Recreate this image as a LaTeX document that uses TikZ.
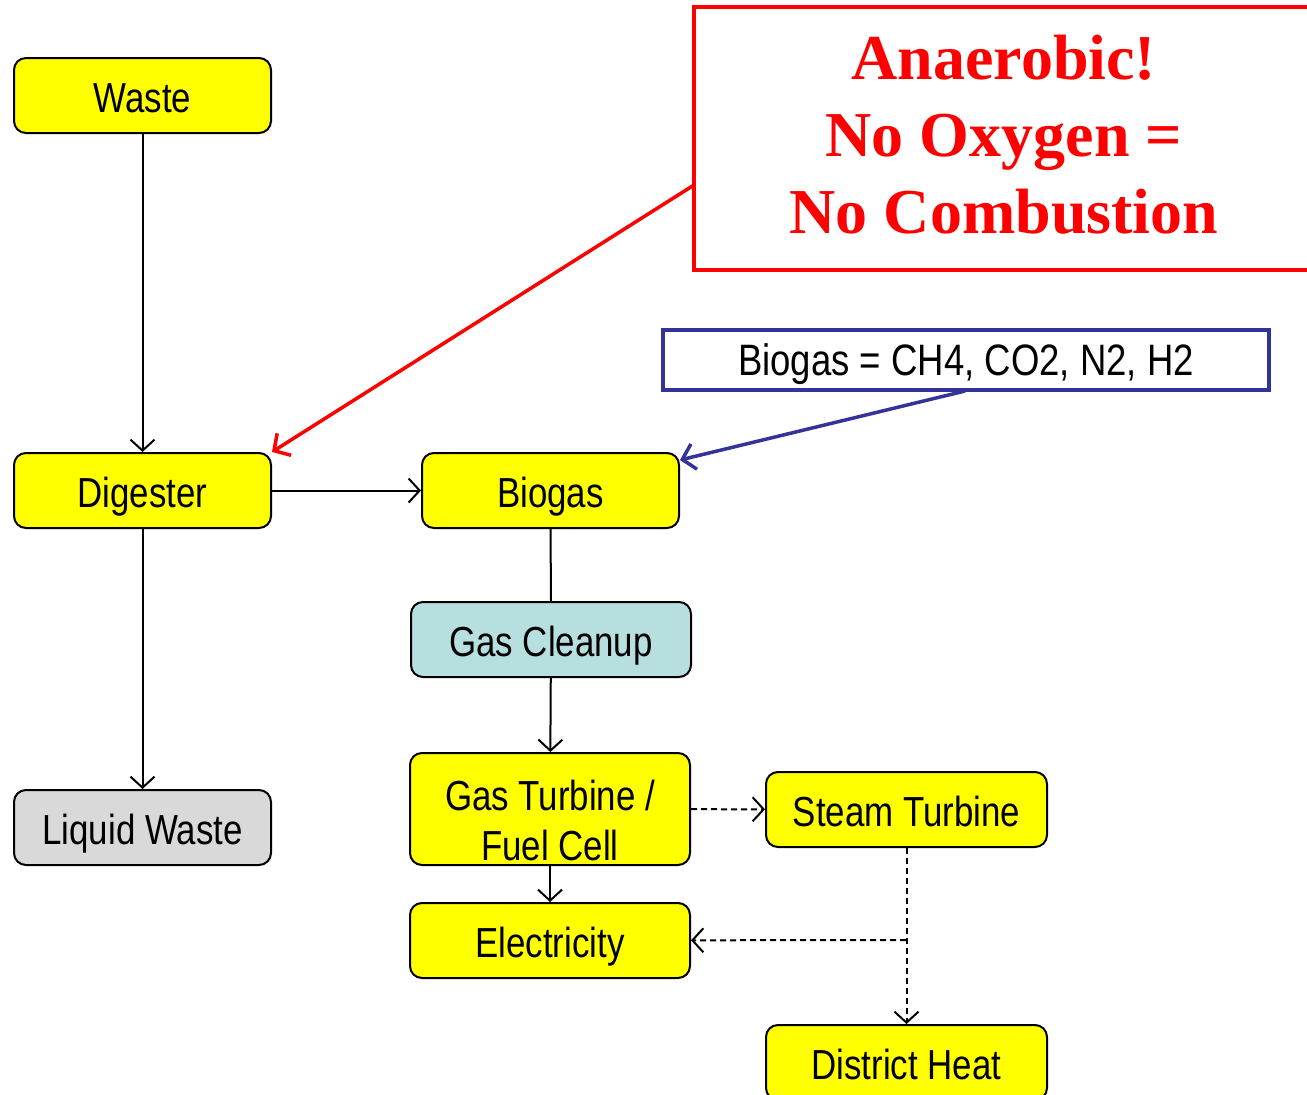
\documentclass[tikz,border=0pt]{standalone}
\usepackage{fontspec}
\setmainfont{Liberation Sans}[FakeStretch=0.83]
\newfontfamily\redfont{Liberation Serif}
\usetikzlibrary{arrows.meta}
\definecolor{boxyellow}{HTML}{FFFF00}
\definecolor{boxgray}{HTML}{D9D9D9}
\definecolor{boxblue}{HTML}{B7DFE0}
\definecolor{notered}{HTML}{FF0000}
\definecolor{noteblue}{HTML}{333399}
\begin{document}
\begin{tikzpicture}[x=1pt,y=-1pt,
  procbox/.style={draw=black, line width=2pt, rounded corners=12pt, fill=boxyellow,
    inner sep=0pt, font=\fontsize{42}{50}\selectfont, align=center, text height=44pt, text depth=10pt},
  flow/.style={draw=black, line width=2pt, -{Straight Barb[length=11pt,width=24pt,line width=2pt]}},
  dflow/.style={flow, dash pattern=on 6pt off 4pt},
  note/.style={line width=3.5pt, -{Straight Barb[length=12pt,width=26pt,line width=3.5pt]}}]
\useasboundingbox (0,0) rectangle (1307,1095);
\begin{scope}
\clip (0,0) rectangle (1307,1095);
% nodes
\node[procbox, minimum width=257pt, minimum height=75pt] (waste) at (142.5,95.5) {Waste};
\node[procbox, minimum width=257pt, minimum height=75pt] (digester) at (142.5,490.5) {Digester};
\node[procbox, fill=boxgray, minimum width=257pt, minimum height=75pt] (liquid) at (142.5,827.5) {Liquid Waste};
\node[procbox, minimum width=257pt, minimum height=75pt] (biogas) at (550.5,490.5) {Biogas};
\node[procbox, fill=boxblue, minimum width=280pt, minimum height=75pt] (cleanup) at (551,639.5) {Gas Cleanup};
\node[procbox, minimum width=280pt, minimum height=112pt] (turbine) at (550,809) {};
\node[font=\fontsize{42}{50}\selectfont, align=center, inner sep=0pt] (turbinetext) at (550,820) {Gas Turbine /\\Fuel Cell};
\node[procbox, minimum width=280pt, minimum height=75pt] (elec) at (550,940.5) {Electricity};
\node[procbox, minimum width=281pt, minimum height=75pt] (steam) at (906.5,809.5) {Steam Turbine};
\node[procbox, minimum width=281pt, minimum height=75pt] (heat) at (906.5,1062.5) {District Heat};
% notes
\node[draw=notered, line width=3.5pt, fill=white, minimum width=616pt, minimum height=263pt, inner sep=0pt] (rednote) at (1002,138.5) {};
\node[text=notered, font=\redfont\bfseries\fontsize{64}{77}\selectfont, align=center, inner sep=0pt] (redtext) at (1004,135) {Anaerobic!\\No Oxygen =\\No Combustion};
\node[draw=noteblue, line width=3.5pt, minimum width=606pt, minimum height=60pt, inner sep=0pt, font=\fontsize{44}{48}\selectfont, text height=40pt, text depth=10pt] (bluenote) at (966,360) {Biogas = CH4, CO2, N2, H2};
% connectors
\draw[flow] (waste) -- (digester);
\draw[flow] (digester) -- (biogas);
\draw[flow] (digester) -- (liquid);
\draw[line width=2pt] (biogas) -- (cleanup);
\draw[flow] (cleanup) -- (turbine);
\draw[flow] (turbine) -- (elec);
\draw[dflow] (turbine) -- (steam);
\draw[dflow] (steam) -- (heat);
\coordinate (split) at (906,940);
\draw[dflow] (split) -- (elec);
\coordinate (redstart) at (694,185);
\coordinate (bluestart) at (965,391);
\draw[note, draw=notered] (redstart) -- (digester.north east);
\draw[note, draw=noteblue] (bluestart) -- ([yshift=-8pt]biogas.north east);
\end{scope}
\end{tikzpicture}
\end{document}
